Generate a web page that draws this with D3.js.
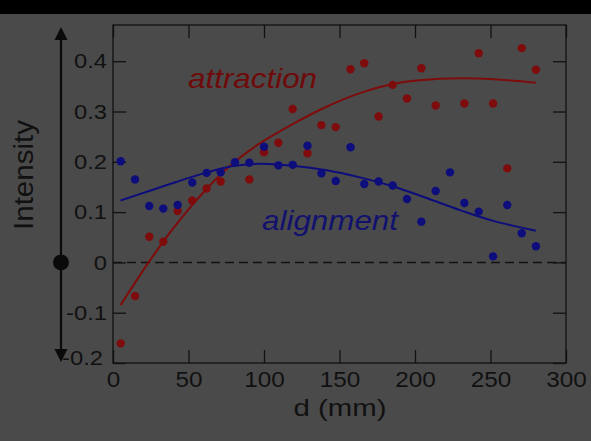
<!DOCTYPE html>
<html>
<head>
<meta charset="utf-8">
<script src="https://cdn.jsdelivr.net/npm/d3@7"></script>
<style>
  html, body { margin: 0; padding: 0; background: #4a4a4a; }
  svg { display: block; }
  text { font-family: "Liberation Sans", Arial, Helvetica, sans-serif; }
</style>
</head>
<body>
<svg id="chart" width="591" height="441"></svg>
<script>
// ---- data ----
const distance = [5.1, 14.6, 24, 33.3, 42.8, 52.5, 62, 71.3, 80.8, 90.3, 100, 109.5, 119, 128.8, 138, 147.5,
  157.3, 166.4, 175.9, 185.2, 194.7, 204.2, 213.7, 223.2, 232.7, 242.2, 251.7, 261.1, 270.7, 280.1];
const attraction = [-0.161, -0.067, 0.051, 0.041, 0.102, 0.123, 0.147, 0.161, null, 0.165, 0.219, 0.238, 0.305,
  0.217, 0.273, 0.269, 0.384, 0.396, 0.290, 0.353, 0.326, 0.386, 0.312, null, 0.316, 0.416, 0.316, 0.187, 0.426, 0.383];
const alignment = [0.201, 0.165, 0.112, 0.107, 0.114, 0.159, 0.178, 0.179, 0.199, 0.198, 0.230, 0.193, 0.194,
  0.232, 0.177, 0.162, 0.229, 0.156, 0.161, 0.153, 0.126, 0.081, 0.142, 0.179, 0.118, 0.101, 0.012, 0.114, 0.058, 0.032];
// fitted curves
const attractionFitX = [5, 24, 40, 58, 78.6, 97.4, 119, 141, 164, 186, 203, 230, 252, 280];
const attractionFitY = [-0.085, 0.002, 0.068, 0.133, 0.195, 0.237, 0.275, 0.309, 0.337, 0.355, 0.362, 0.366, 0.364, 0.357];
const alignmentFitX = [5, 24, 42, 60, 78.6, 97, 119, 141.5, 163.6, 185.6, 207.7, 229.8, 251.9, 280];
const alignmentFitY = [0.123, 0.142, 0.160, 0.177, 0.191, 0.196, 0.192, 0.183, 0.169, 0.151, 0.128, 0.104, 0.0825, 0.063];
const xTicks = [0, 50, 100, 150, 200, 250, 300];
const yTicks = [-0.2, -0.1, 0, 0.1, 0.2, 0.3, 0.4];
const yTickLabels = ["-0.2", "-0.1", "0", "0.1", "0.2", "0.3", "0.4"];

// ---- layout ----
const svg = d3.select("#chart");
const L = 113, R = 566, T = 25, B = 363;
const x = d3.scaleLinear().domain([0, 300]).range([L, R]);
const y = d3.scaleLinear().domain([-0.2, 0.472]).range([B, T]);
const red = "#7e0c0c", blue = "#0d0d7c";
const stretch = 1.13;

svg.append("rect").attr("width", 591).attr("height", 441).attr("fill", "#4a4a4a");
svg.append("rect").attr("width", 591).attr("height", 14).attr("fill", "#000");

// axes (inward ticks)
const tickStyle = g => {
  g.select(".domain").remove();
  g.selectAll(".tick line").attr("stroke", "#111").attr("stroke-width", 1.3);
};
svg.append("g").attr("transform", `translate(${L},0)`)
  .call(d3.axisLeft(y).tickValues(yTicks).tickSize(-13).tickPadding(6)
    .tickFormat((d, i) => yTickLabels[i]))
  .call(tickStyle)
  .call(g => g.selectAll("text").attr("font-size", 21).attr("fill", "#111")
    .attr("font-family", "Liberation Sans, Arial, sans-serif"))
  .attr("class", "yaxis");
svg.append("g").attr("transform", `translate(${R},0)`)
  .call(d3.axisRight(y).tickValues(yTicks).tickSize(-13).tickFormat(""))
  .call(tickStyle);
svg.append("g").attr("transform", `translate(0,${B})`)
  .call(d3.axisBottom(x).tickValues(xTicks).tickSize(-13).tickPadding(9))
  .call(tickStyle)
  .call(g => g.selectAll("text").attr("font-size", 21.5).attr("fill", "#111")
    .attr("font-family", "Liberation Sans, Arial, sans-serif"))
  .attr("class", "xaxis");
svg.append("g").attr("transform", `translate(0,${T})`)
  .call(d3.axisTop(x).tickValues(xTicks).tickSize(-13).tickFormat(""))
  .call(tickStyle);

// widen tick labels horizontally to match the reference font
svg.selectAll(".yaxis text, .xaxis text").each(function () {
  const w = this.getComputedTextLength();
  d3.select(this).attr("textLength", w * stretch).attr("lengthAdjust", "spacingAndGlyphs");
});
// nudge the -0.2 label up/left as in the reference
svg.selectAll(".yaxis .tick").filter(d => d === -0.2).select("text")
  .attr("dy", "0.05em").attr("x", -10);

// frame
svg.append("rect").attr("x", L).attr("y", T).attr("width", R - L).attr("height", B - T)
  .attr("fill", "none").attr("stroke", "#111").attr("stroke-width", 1.3);

// zero dashed line
svg.append("line").attr("x1", L).attr("x2", R).attr("y1", y(0)).attr("y2", y(0))
  .attr("stroke", "#111").attr("stroke-width", 1.5).attr("stroke-dasharray", "9,5");

// fit curves
const line = d3.line().x(d => x(d[0])).y(d => y(d[1])).curve(d3.curveCatmullRom);
svg.append("path").datum(d3.zip(attractionFitX, attractionFitY))
  .attr("d", line).attr("fill", "none").attr("stroke", red).attr("stroke-width", 2);
svg.append("path").datum(d3.zip(alignmentFitX, alignmentFitY))
  .attr("d", line).attr("fill", "none").attr("stroke", blue).attr("stroke-width", 2);

// points (red under blue)
svg.append("g").selectAll("circle")
  .data(d3.zip(distance, attraction).filter(d => d[1] !== null))
  .join("circle").attr("cx", d => x(d[0])).attr("cy", d => y(d[1])).attr("r", 4.2).attr("fill", red);
svg.append("g").selectAll("circle")
  .data(d3.zip(distance, alignment).filter(d => d[1] !== null))
  .join("circle").attr("cx", d => x(d[0])).attr("cy", d => y(d[1])).attr("r", 4.2).attr("fill", blue);

// series labels
svg.append("text").attr("x", x(49.7)).attr("y", y(0.347)).text("attraction")
  .attr("font-size", 28).attr("font-style", "italic").attr("fill", "#6e0a0a")
  .attr("textLength", 129).attr("lengthAdjust", "spacingAndGlyphs");
svg.append("text").attr("x", x(98.7)).attr("y", y(0.0646)).text("alignment")
  .attr("font-size", 28).attr("font-style", "italic").attr("fill", "#12126e")
  .attr("textLength", 136).attr("lengthAdjust", "spacingAndGlyphs");

// axis titles
svg.append("text").attr("x", 340).attr("y", 416).attr("text-anchor", "middle")
  .attr("font-size", 24).attr("fill", "#111").text("d (mm)")
  .attr("textLength", 93).attr("lengthAdjust", "spacingAndGlyphs");
svg.append("text").attr("transform", "translate(32.5,175) rotate(-90)").attr("text-anchor", "middle")
  .attr("font-size", 27).attr("fill", "#111").text("Intensity")
  .attr("textLength", 110).attr("lengthAdjust", "spacingAndGlyphs");

// left intensity arrow
const ax = 61;
svg.append("line").attr("x1", ax).attr("x2", ax).attr("y1", 36).attr("y2", 352)
  .attr("stroke", "#0a0a0a").attr("stroke-width", 2.2);
svg.append("path").attr("d", `M${ax},27 L${ax - 6.5},40 L${ax + 6.5},40 Z`).attr("fill", "#0a0a0a");
svg.append("path").attr("d", `M${ax},362 L${ax - 6.5},349 L${ax + 6.5},349 Z`).attr("fill", "#0a0a0a");
svg.append("circle").attr("cx", ax).attr("cy", y(0)).attr("r", 8).attr("fill", "#0a0a0a");
</script>
</body>
</html>
